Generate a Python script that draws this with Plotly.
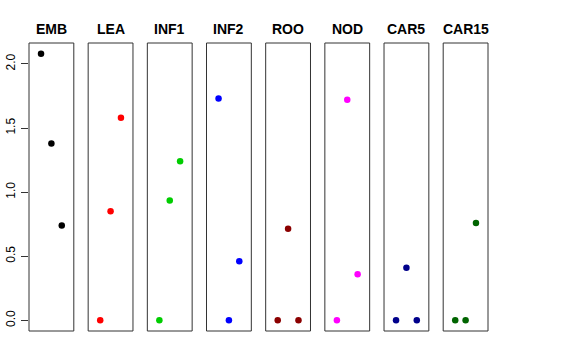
import plotly.graph_objects as go

tissues = ["EMB", "LEA", "INF1", "INF2", "ROO", "NOD", "CAR5", "CAR15"]
colors = ["#000000", "#FF0000", "#00CD00", "#0000FF", "#8B0000", "#FF00FF", "#00008B", "#006400"]
x_pos = [1, 2, 3]
EMB = [2.08, 1.38, 0.74]
LEA = [0.0, 0.85, 1.58]
INF1 = [0.0, 0.935, 1.24]
INF2 = [1.73, 0.0, 0.46]
ROO = [0.0, 0.715, 0.0]
NOD = [0.0, 1.72, 0.36]
CAR5 = [0.0, 0.41, 0.0]
CAR15 = [0.0, 0.0, 0.76]
values = [EMB, LEA, INF1, INF2, ROO, NOD, CAR5, CAR15]
y_ticks = [0.0, 0.5, 1.0, 1.5, 2.0]
y_labels = ["0.0", "0.5", "1.0", "1.5", "2.0"]

W, H = 576, 360
ml, mr, mt, mb = 29, 88, 43, 29
pw = W - ml - mr
ph = H - mt - mb
panel_w = 44.8
step = (pw - panel_w) / 7

ymax = max(max(v) for v in values)
yr = [0 - 0.04 * ymax, ymax * 1.04]
xr = [0 - 0.04 * 4, 4 * 1.04]

fig = go.Figure()
annotations = []
shapes = []
for i, (name, col, vals) in enumerate(zip(tissues, colors, values)):
    xa = "x" if i == 0 else f"x{i+1}"
    fig.add_trace(go.Scatter(x=x_pos, y=vals, mode="markers", xaxis=xa, yaxis="y",
                             marker=dict(color=col, size=6.5, line=dict(width=0)),
                             showlegend=False, hoverinfo="skip"))
    left = (i * step) / pw
    right = (i * step + panel_w) / pw
    key = "xaxis" if i == 0 else f"xaxis{i+1}"
    fig.layout[key] = dict(domain=[left, right], range=xr, showticklabels=False, ticks="",
                           showgrid=False, zeroline=False, showline=False,
                           anchor="y", fixedrange=True, automargin=False)
    shapes.append(dict(type="rect", xref=f"{xa} domain", yref="y domain",
                       x0=0, x1=1, y0=0, y1=1, line=dict(color="#333333", width=1),
                       fillcolor="rgba(0,0,0,0)", layer="above"))
    annotations.append(dict(text=f"<b>{name}</b>", x=(left + right) / 2, xref="paper",
                            y=(ph + 14) / ph, yref="paper", xanchor="center", yanchor="middle",
                            showarrow=False, font=dict(size=14, color="black",
                                                      family="Liberation Sans, Arial, sans-serif")))

fig.update_layout(
    width=W, height=H,
    margin=dict(l=ml, r=mr, t=mt, b=mb, pad=0, autoexpand=False),
    paper_bgcolor="white", plot_bgcolor="white",
    yaxis=dict(range=yr, tickvals=y_ticks, ticktext=y_labels, ticks="outside", ticklen=7,
               tickcolor="#333333", tickangle=-90, showgrid=False, zeroline=False,
               showline=False, tickfont=dict(size=12, color="black",
                                             family="Liberation Sans, Arial, sans-serif"),
               ticklabelstandoff=1, fixedrange=True, automargin=False),
    annotations=annotations,
    shapes=shapes,
)
fig.write_html("out.html", config={"displayModeBar": False, "staticPlot": True})

with open("out.html", "r", encoding="utf-8") as f:
    html = f.read()
html = html.replace("<head>", "<head><style>html,body{margin:0;padding:0;overflow:hidden;}</style>", 1)
with open("out.html", "w", encoding="utf-8") as f:
    f.write(html)
